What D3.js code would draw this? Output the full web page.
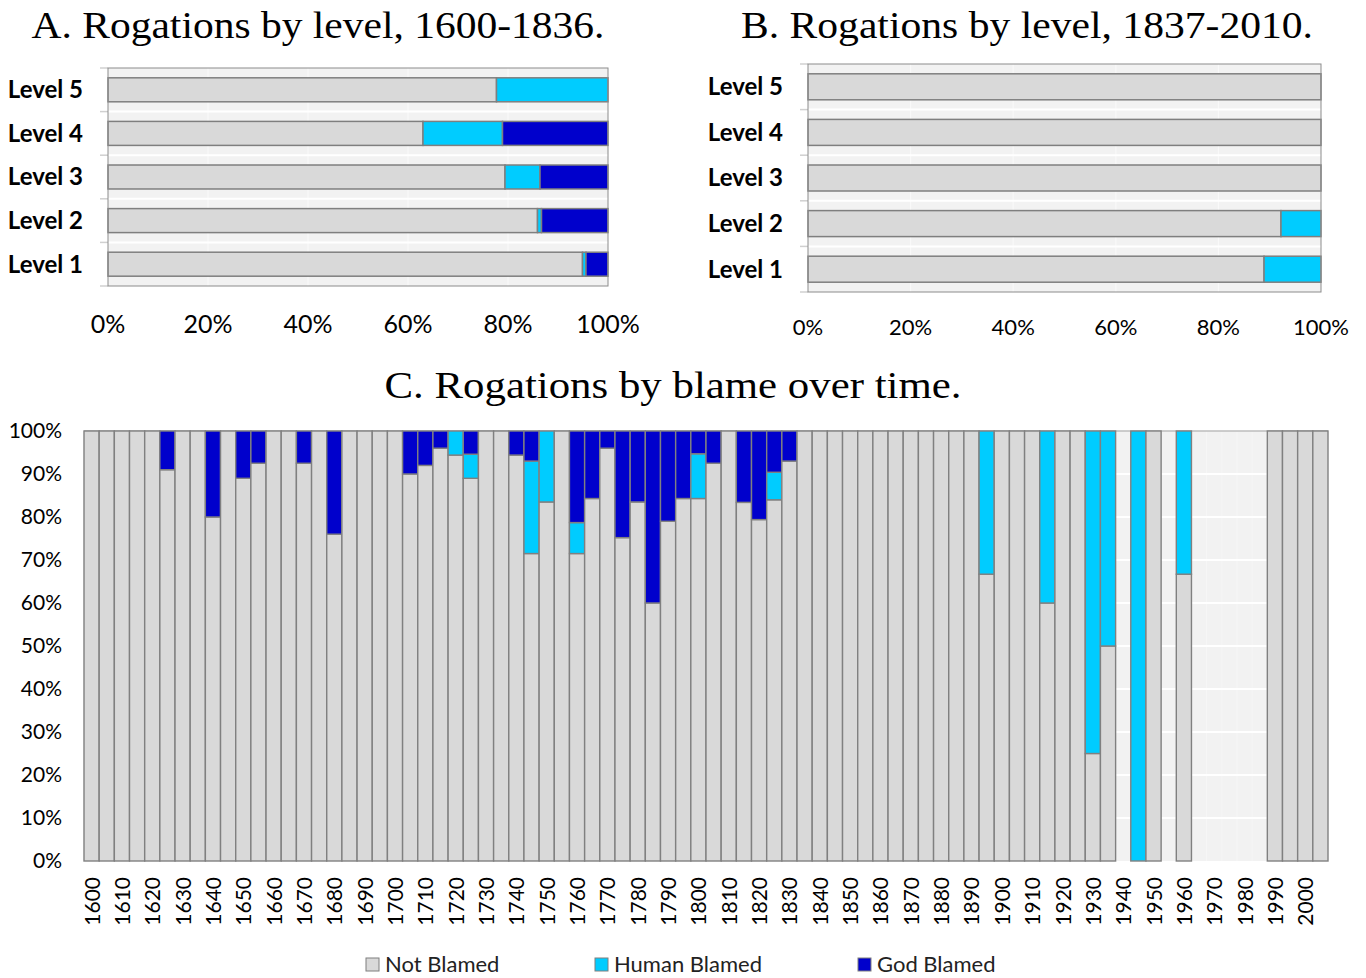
<!DOCTYPE html>
<html>
<head>
<meta charset="utf-8">
<script src="https://cdn.jsdelivr.net/npm/d3@7"></script>
<style>
  body { margin: 0; background: #fff; }
  svg { display: block; }
</style>
</head>
<body>
<svg id="chart" width="1366" height="978"></svg>
<script>
// panel A / B: share of rogations by level
let levels = ["Level 5", "Level 4", "Level 3", "Level 2", "Level 1"];
let aNot   = [77.7, 63.0, 79.4, 85.9, 94.9];
let aHuman = [22.3, 15.9,  7.0,  0.8,  0.7];
let aGod   = [ 0.0, 21.1, 13.6, 13.3,  4.4];
let bNot   = [100, 100, 100, 92.2, 88.9];
let bHuman = [  0,   0,   0,  7.8, 11.1];
let bGod   = [  0,   0,   0,  0,    0];
let pctTicks = [0, 20, 40, 60, 80, 100];

// panel C: 5-year bins, null = no rogations in that bin
let years = [1600,1605,1610,1615,1620,1625,1630,1635,1640,1645,1650,1655,1660,1665,1670,1675,
  1680,1685,1690,1695,1700,1705,1710,1715,1720,1725,1730,1735,1740,1745,1750,1755,1760,1765,
  1770,1775,1780,1785,1790,1795,1800,1805,1810,1815,1820,1825,1830,1835,1840,1845,1850,1855,
  1860,1865,1870,1875,1880,1885,1890,1895,1900,1905,1910,1915,1920,1925,1930,1935,1940,1945,
  1950,1955,1960,1965,1970,1975,1980,1985,1990,1995,2000,2005];
let cNot = [100,100,100,100,100,91,100,100,80,100,89,92.5,100,100,92.5,100,
  76,100,100,100,100,90,92,96,94.4,89,100,100,94.4,71.5,83.5,100,71.5,84.3,
  96,75.2,83.5,60,79,84.3,84.3,92.5,100,83.4,79.4,84,93,100,100,100,100,100,
  100,100,100,100,100,100,100,66.7,100,100,100,60,100,100,25,50,null,0,
  100,null,66.7,null,null,null,null,null,100,100,100,100];
let cHuman = [0,0,0,0,0,0,0,0,0,0,0,0,0,0,0,0,
  0,0,0,0,0,0,0,0,5.6,5.6,0,0,0,21.5,16.5,0,7.2,0,
  0,0,0,0,0,0,10.4,0,0,0,0,6.4,0,0,0,0,0,0,
  0,0,0,0,0,0,0,33.3,0,0,0,40,0,0,75,50,null,100,
  0,null,33.3,null,null,null,null,null,0,0,0,0];
let cGod = [0,0,0,0,0,9,0,0,20,0,11,7.5,0,0,7.5,0,
  24,0,0,0,0,10,8,4,0,5.4,0,0,5.6,7,0,0,21.3,15.7,
  4,24.8,16.5,40,21,15.7,5.3,7.5,0,16.6,20.6,9.6,7,0,0,0,0,0,
  0,0,0,0,0,0,0,0,0,0,0,0,0,0,0,0,null,0,
  0,null,0,null,null,null,null,null,0,0,0,0];
let cTicks = [0,10,20,30,40,50,60,70,80,90,100];

let series = ["Not Blamed", "Human Blamed", "God Blamed"];
let colors = ["#d9d9d9", "#00ccff", "#0000cc"];

const svg = d3.select("#chart");
const serif = "'Liberation Serif', 'Times New Roman', serif";
const sans = "Lato, 'Open Sans', sans-serif";

function title(x, y, len, txt) {
  svg.append("text").attr("x", x).attr("y", y)
    .attr("text-anchor", "middle").attr("font-family", serif)
    .attr("font-size", 37).attr("fill", "#000")
    .attr("textLength", len).attr("lengthAdjust", "spacingAndGlyphs")
    .text(txt);
}

function levelPanel(opt) {
  let x = d3.scaleLinear().domain([0, 100]).range([opt.x0, opt.x1]);
  let y = d3.scaleBand().domain(levels).range([opt.y0, opt.y1])
    .paddingInner(opt.pad).paddingOuter(opt.pad / 2);
  let g = svg.append("g");

  g.append("rect").attr("x", opt.x0).attr("y", opt.y0)
    .attr("width", opt.x1 - opt.x0).attr("height", opt.y1 - opt.y0)
    .attr("fill", "#f2f2f2");
  // vertical grid
  g.selectAll(".vg").data(pctTicks.slice(1, -1)).join("line")
    .attr("x1", d => x(d)).attr("x2", d => x(d))
    .attr("y1", opt.y0).attr("y2", opt.y1)
    .attr("stroke", "#fafafa").attr("stroke-width", 1);
  // horizontal grid at band boundaries
  let bounds = levels.slice(1).map(l => y(l) - y.step() * y.paddingInner() / 2);
  g.selectAll(".hg").data(bounds).join("line")
    .attr("x1", opt.x0).attr("x2", opt.x1)
    .attr("y1", d => d).attr("y2", d => d)
    .attr("stroke", "#fff").attr("stroke-width", 2);
  // left ticks
  g.selectAll(".lt").data([opt.y0].concat(bounds, [opt.y1])).join("line")
    .attr("x1", opt.x0 - 8).attr("x2", opt.x0)
    .attr("y1", d => d).attr("y2", d => d)
    .attr("stroke", "#d0d0d0").attr("stroke-width", 1.5);

  let rows = levels.map((l, i) => ({ level: l, vals: [opt.not[i], opt.human[i], opt.god[i]] }));
  rows.forEach(r => {
    let acc = 0;
    r.vals.forEach((v, k) => {
      if (v > 0) {
        g.append("rect")
          .attr("x", x(acc)).attr("width", x(acc + v) - x(acc))
          .attr("y", y(r.level)).attr("height", y.bandwidth())
          .attr("fill", colors[k]).attr("stroke", "#7f7f7f").attr("stroke-width", 1.5);
      }
      acc += v;
    });
  });

  g.append("rect").attr("x", opt.x0).attr("y", opt.y0)
    .attr("width", opt.x1 - opt.x0).attr("height", opt.y1 - opt.y0)
    .attr("fill", "none").attr("stroke", "#8c8c8c").attr("stroke-width", 1);

  g.selectAll(".yl").data(levels).join("text")
    .attr("x", opt.labelX).attr("y", d => y(d) + y.bandwidth() / 2)
    .attr("dy", "0.35em").attr("text-anchor", "end")
    .attr("font-family", sans).attr("font-weight", 700).attr("font-size", 24)
    .attr("fill", "#000").text(d => d);

  g.selectAll(".xl").data(pctTicks).join("text")
    .attr("x", d => x(d)).attr("y", opt.tickY).attr("dy", "0.35em")
    .attr("text-anchor", "middle")
    .attr("font-family", sans).attr("font-size", opt.tickSize).attr("fill", "#000")
    .text(d => d + "%");

  title(opt.titleX, 38, opt.titleLen, opt.title);
}

levelPanel({ x0: 108, x1: 608, y0: 68, y1: 286, pad: 0.45, labelX: 83,
  not: aNot, human: aHuman, god: aGod, tickY: 324, tickSize: 25,
  titleX: 318, titleLen: 573, title: "A. Rogations by level, 1600-1836." });
levelPanel({ x0: 808, x1: 1321, y0: 64, y1: 292, pad: 0.43, labelX: 783,
  not: bNot, human: bHuman, god: bGod, tickY: 327, tickSize: 22,
  titleX: 1027, titleLen: 572, title: "B. Rogations by level, 1837-2010." });

// panel C
const cx = d3.scaleBand().domain(years).range([84, 1328]).padding(0);
const cy = d3.scaleLinear().domain([0, 100]).range([861, 431]);
const gc = svg.append("g");

gc.append("rect").attr("x", 84).attr("y", 431).attr("width", 1328 - 84).attr("height", 430)
  .attr("fill", "#f2f2f2");
gc.selectAll(".cvg").data(years).join("line")
  .attr("x1", d => cx(d)).attr("x2", d => cx(d)).attr("y1", 431).attr("y2", 861)
  .attr("stroke", "#f6f6f6").attr("stroke-width", 1);
gc.selectAll(".chg").data(cTicks.slice(1, -1)).join("line")
  .attr("x1", 84).attr("x2", 1328).attr("y1", d => cy(d)).attr("y2", d => cy(d))
  .attr("stroke", "#fff").attr("stroke-width", 2);
gc.append("line").attr("x1", 84).attr("x2", 1328).attr("y1", 431).attr("y2", 431)
  .attr("stroke", "#bdbdbd").attr("stroke-width", 1.5);

years.forEach((yr, i) => {
  if (cNot[i] === null) return;
  let vals = [cNot[i], cHuman[i], cGod[i]];
  let acc = 0;
  vals.forEach((v, k) => {
    if (v > 0) {
      gc.append("rect")
        .attr("x", cx(yr)).attr("width", cx.bandwidth())
        .attr("y", cy(acc + v)).attr("height", cy(acc) - cy(acc + v))
        .attr("fill", colors[k]).attr("stroke", "#808080").attr("stroke-width", 1.4);
    }
    acc += v;
  });
});

gc.selectAll(".cyl").data(cTicks).join("text")
  .attr("x", 62).attr("y", d => cy(d)).attr("dy", "0.35em").attr("text-anchor", "end")
  .attr("font-family", sans).attr("font-size", 21).attr("fill", "#000")
  .text(d => d + "%");

gc.selectAll(".cxl").data(years.filter(d => d % 10 === 0)).join("text")
  .attr("transform", d => `translate(${cx(d) + cx.bandwidth() / 2 + 8},877) rotate(-90)`)
  .attr("text-anchor", "end")
  .attr("font-family", sans).attr("font-size", 21).attr("fill", "#000")
  .text(d => d);

title(673, 398, 577, "C. Rogations by blame over time.");

// legend
let legX = [366, 595, 858];
series.forEach((s, k) => {
  svg.append("rect").attr("x", legX[k]).attr("y", 958).attr("width", 13).attr("height", 13)
    .attr("fill", colors[k]).attr("stroke", "#7f7f7f").attr("stroke-width", 1);
  svg.append("text").attr("x", legX[k] + 19).attr("y", 972)
    .attr("font-family", sans).attr("font-size", 22).attr("fill", "#222").text(s);
});
</script>
</body>
</html>
